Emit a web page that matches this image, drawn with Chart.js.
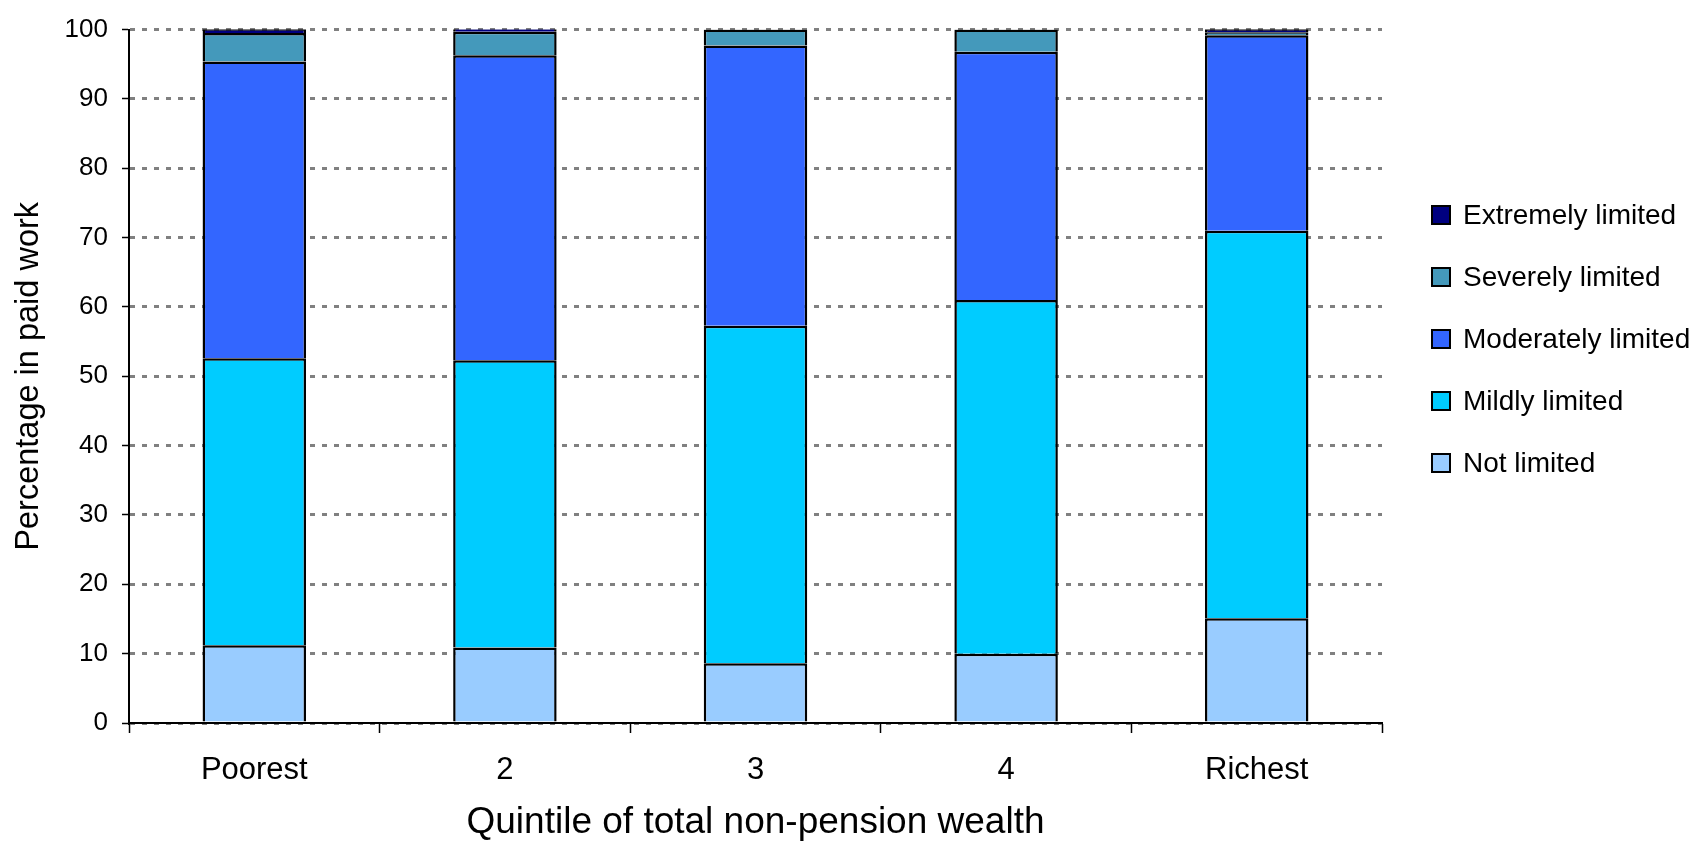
<!DOCTYPE html>
<html>
<head>
<meta charset="utf-8">
<title>Paid work by wealth quintile</title>
<script src="https://cdn.jsdelivr.net/npm/chart.js@4/dist/chart.umd.min.js"></script>
<style>
  html, body { margin: 0; padding: 0; background: #fff; }
  #wrap { width: 1700px; height: 845px; position: relative; }
</style>
</head>
<body>
<div id="wrap"><canvas id="chart_paid_work"></canvas></div>
<script>
"use strict";

// quintiles of total non-pension wealth
const quintiles = ["Poorest", "2", "3", "4", "Richest"];

// percentage in paid work, split by how limited people are
const notLimited = [11.2, 10.9, 8.6, 10.0, 15.1];
const mildlyLimited = [41.4, 41.4, 48.7, 51.0, 55.9];
const moderatelyLimited = [42.8, 44.0, 40.4, 35.8, 28.2];
const severelyLimited = [4.1, 3.4, 2.3, 3.2, 0.4];
const extremelyLimited = [0.7, 0.7, 0, 0, 0.5];

const FONT = "'Liberation Sans', Arial, sans-serif";

// legend drawn on the right, top entry = top of the stack
const sideLegend = {
    id: "sideLegend",
    afterDraw: chart => {
        const ctx = chart.ctx;
        const sets = chart.data.datasets.slice().reverse();
        ctx.save();
        ctx.font = "28px " + FONT;
        ctx.textBaseline = "middle";
        ctx.textAlign = "left";
        sets.forEach((ds, i) => {
            const cy = 215 + i * 62;
            ctx.fillStyle = ds.backgroundColor;
            ctx.fillRect(1432, cy - 9, 18, 18);
            ctx.lineWidth = 2;
            ctx.strokeStyle = "#000";
            ctx.strokeRect(1432, cy - 9, 18, 18);
            ctx.fillStyle = "#000";
            ctx.fillText(ds.label, 1463, cy + 1);
        });
        ctx.restore();
    }
};

// bottom edge skipped so stacked segments share one dividing line
const makeSet = (label, data, color) => ({
    label: label,
    data: data,
    backgroundColor: color,
    borderColor: "#000",
    borderWidth: 2.5,
    borderSkipped: "start",
    inflateAmount: 0,
    barPercentage: 0.413,
    categoryPercentage: 1.0
});

const ctx = document.getElementById("chart_paid_work").getContext("2d");

new Chart(ctx, {
    type: "bar",
    data: {
        labels: quintiles,
        datasets: [
            makeSet("Not limited", notLimited, "#99CCFF"),
            makeSet("Mildly limited", mildlyLimited, "#00CCFF"),
            makeSet("Moderately limited", moderatelyLimited, "#3366FF"),
            makeSet("Severely limited", severelyLimited, "#4499BB"),
            makeSet("Extremely limited", extremelyLimited, "#000080")
        ]
    },
    options: {
        responsive: true,
        maintainAspectRatio: false,
        animation: false,
        layout: { padding: { top: 27, right: 318, left: 0, bottom: 0 } },
        plugins: {
            legend: { display: false },
            tooltip: { enabled: false }
        },
        scales: {
            x: {
                stacked: true,
                grid: {
                    display: true,
                    offset: true,
                    drawOnChartArea: false,
                    drawTicks: true,
                    tickLength: 10,
                    tickColor: "#000",
                    tickWidth: 1.5
                },
                border: { display: true, color: "#000", width: 2 },
                ticks: {
                    color: "#000",
                    font: { family: FONT, size: 31 },
                    padding: 19,
                    maxRotation: 0
                },
                title: {
                    display: true,
                    text: "Quintile of total non-pension wealth",
                    color: "#000",
                    font: { family: FONT, size: 37 },
                    padding: { top: 0, bottom: 0 }
                },
                afterFit: scale => { scale.height = 122; }
            },
            y: {
                stacked: true,
                min: 0,
                max: 100,
                grid: {
                    color: "#808080",
                    lineWidth: 3,
                    drawTicks: true,
                    tickLength: 7,
                    tickColor: "#000",
                    tickWidth: 1.5,
                    tickBorderDash: []
                },
                border: { display: true, color: "#000", width: 2, dash: [5, 7] },
                ticks: {
                    stepSize: 10,
                    color: "#000",
                    font: { family: FONT, size: 26 },
                    padding: 14
                },
                title: {
                    display: true,
                    text: "Percentage in paid work",
                    color: "#000",
                    font: { family: FONT, size: 32.5 },
                    padding: { top: 10, bottom: 0 }
                },
                afterFit: scale => { scale.width = 129; }
            }
        }
    },
    plugins: [sideLegend]
});
</script>
</body>
</html>
